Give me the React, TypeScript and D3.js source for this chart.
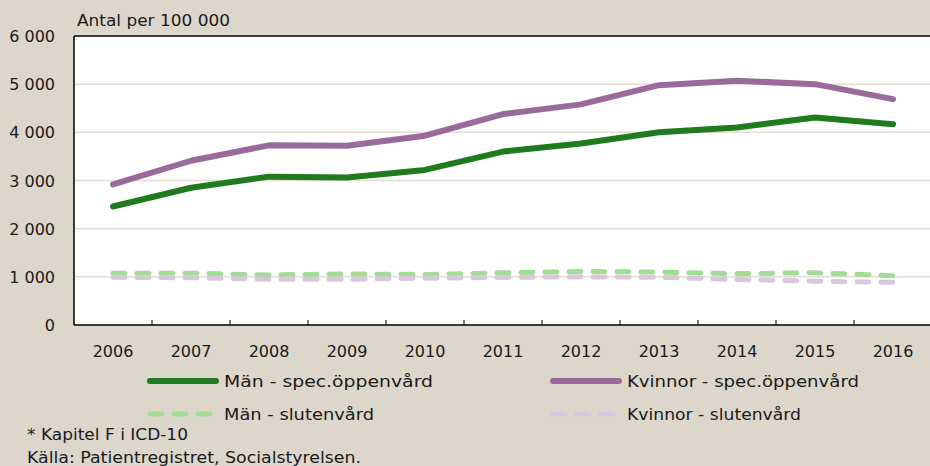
import React from "react";
import * as d3 from "d3";

const years = ["2006","2007","2008","2009","2010","2011","2012","2013","2014","2015","2016"];
const manSpec = [2460, 2850, 3080, 3060, 3220, 3600, 3770, 4000, 4100, 4310, 4170];
const kvinnaSpec = [2920, 3410, 3730, 3720, 3930, 4380, 4580, 4980, 5070, 5000, 4690];
const manSluten = [1075, 1075, 1040, 1060, 1050, 1085, 1110, 1100, 1065, 1085, 1025];
const kvinnaSluten = [990, 980, 950, 950, 970, 990, 1000, 990, 945, 910, 885];
const yTicks = [0, 1000, 2000, 3000, 4000, 5000, 6000];

const W = 930, H = 466;
const left = 74, right = 932, top = 36, bottom = 325;
const font = "'DejaVu Sans', sans-serif";
const textColor = "#1a1a1a";

export default function App() {
  const x = d3.scaleBand<string>().domain(years).range([left, right]);
  const y = d3.scaleLinear().domain([0, 6000]).range([bottom, top]);
  const line = d3.line<number>()
    .x((_, i) => (x(years[i]) as number) + x.bandwidth() / 2)
    .y((d) => y(d));
  const fmt = (v: number) => (v >= 1000 ? `${Math.floor(v / 1000)} ${String(v % 1000).padStart(3, "0")}` : String(v));

  const series = [
    { name: "Män - spec.öppenvård", data: manSpec, color: "#207a1e", width: 6, dash: null, tl: 209 },
    { name: "Kvinnor - spec.öppenvård", data: kvinnaSpec, color: "#9a6b9a", width: 6, dash: null, tl: 232 },
    { name: "Män - slutenvård", data: manSluten, color: "#a2dc95", width: 5, dash: "12 12", tl: 150 },
    { name: "Kvinnor - slutenvård", data: kvinnaSluten, color: "#d9c8dc", width: 5, dash: "12 12", tl: 174 },
  ];
  const legendPos = [
    { x: 147, y: 381 },
    { x: 550, y: 381 },
    { x: 147, y: 414 },
    { x: 550, y: 414 },
  ];

  return (
    <svg width={W} height={H} style={{ position: "absolute", left: 0, top: 0, background: "#ddd6cb" }} fontFamily={font}>
      <rect x={0} y={0} width={W} height={H} fill="#ddd6cb" />
      <rect x={left} y={top} width={right - left} height={bottom - top} fill="#ffffff" />
      {yTicks.filter((t) => t > 0 && t < 6000).map((t) => (
        <line key={t} x1={left} x2={right} y1={y(t)} y2={y(t)} stroke="#e3ddd4" strokeWidth={1.5} />
      ))}
      <line x1={left} x2={right} y1={top} y2={top} stroke="#000" strokeWidth={1.5} />
      <line x1={left} x2={left} y1={top} y2={bottom} stroke="#000" strokeWidth={1.5} />
      <line x1={left} x2={right} y1={bottom} y2={bottom} stroke="#000" strokeWidth={1.5} />
      {years.slice(1).map((yr) => (
        <line key={yr} x1={x(yr)} x2={x(yr)} y1={bottom} y2={bottom - 5} stroke="#000" strokeWidth={1} />
      ))}
      {yTicks.map((t) => (
        <text key={t} x={55} y={y(t) + 6} textAnchor="end" fontSize={16} fill={textColor}>{fmt(t)}</text>
      ))}
      {years.map((yr) => (
        <text key={yr} x={(x(yr) as number) + x.bandwidth() / 2} y={357} textAnchor="middle" fontSize={16} fill={textColor}>{yr}</text>
      ))}
      <text x={77} y={26} fontSize={16} fill={textColor} textLength={153} lengthAdjust="spacingAndGlyphs">Antal per 100 000</text>
      {[series[2], series[3], series[0], series[1]].map((s) => (
        <path key={s.name} d={line(s.data) || ""} fill="none" stroke={s.color} strokeWidth={s.width}
          strokeLinecap="round" strokeLinejoin="round" strokeDasharray={s.dash || undefined} />
      ))}
      {series.map((s, i) => (
        <g key={s.name}>
          <line x1={legendPos[i].x + 3} x2={legendPos[i].x + 69} y1={legendPos[i].y} y2={legendPos[i].y}
            stroke={s.color} strokeWidth={s.width} strokeLinecap="round" strokeDasharray={s.dash || undefined} />
          <text x={legendPos[i].x + 77} y={legendPos[i].y + 6} fontSize={16} fill={textColor}
            textLength={s.tl} lengthAdjust="spacingAndGlyphs">{s.name}</text>
        </g>
      ))}
      <text x={27} y={440} fontSize={16} fill={textColor} textLength={161} lengthAdjust="spacingAndGlyphs">* Kapitel F i ICD-10</text>
      <text x={27} y={463} fontSize={16} fill={textColor} textLength={334} lengthAdjust="spacingAndGlyphs">Källa: Patientregistret, Socialstyrelsen.</text>
    </svg>
  );
}
